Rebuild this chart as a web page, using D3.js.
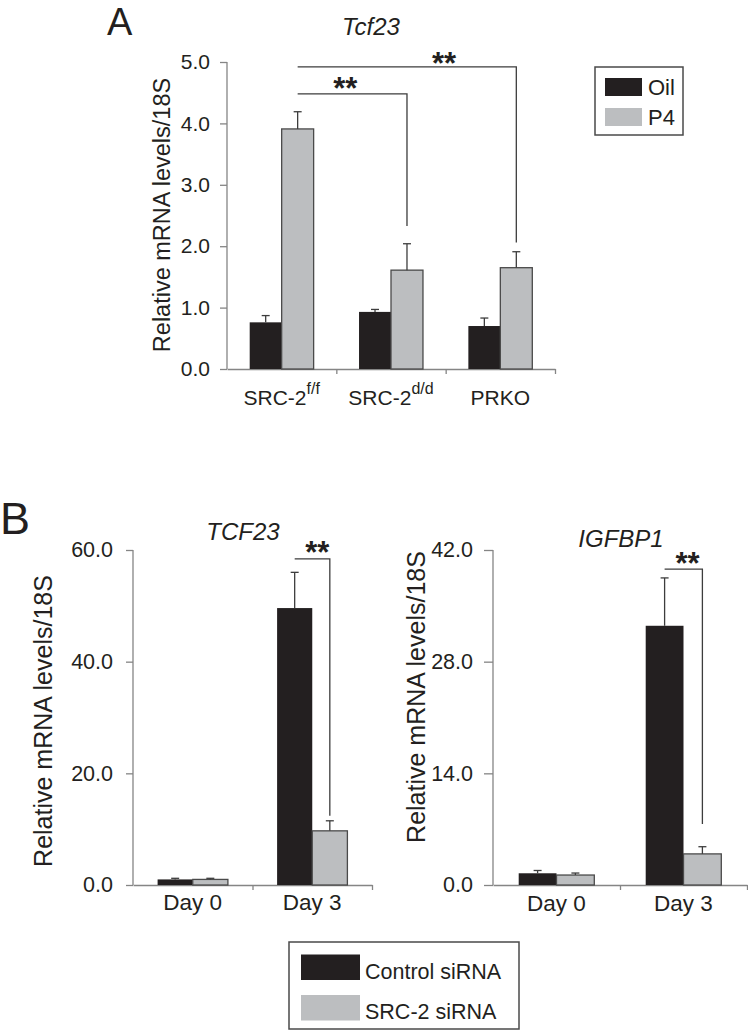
<!DOCTYPE html>
<html><head><meta charset="utf-8">
<script src="https://cdn.jsdelivr.net/npm/d3@7"></script>
<style>
html,body{margin:0;padding:0;background:#fff;}
svg text{font-family:"Liberation Sans",Arial,Helvetica,sans-serif;fill:#231f20;}
</style></head>
<body>
<svg id="chart" width="748" height="1031"></svg>
<script>
// ---------- DATA ----------
// Panel A: Tcf23
const catsA = ["SRC-2", "SRC-2", "PRKO"];
const catsASup = ["f/f", "d/d", ""];
const seriesA = ["Oil", "P4"];
const oilMean = [0.76, 0.93, 0.70];
const oilErr  = [0.11, 0.04, 0.13];
const p4Mean  = [3.91, 1.61, 1.65];
const p4Err   = [0.28, 0.43, 0.26];
const ticksA  = [0, 1, 2, 3, 4, 5];

// Panel B
const daysB = ["Day 0", "Day 3"];
const seriesB = ["Control siRNA", "SRC-2 siRNA"];
const tcfCtrl = [1.0, 49.6];
const tcfCtrlErr = [0.2, 6.4];
const tcfSi = [1.0, 9.7];
const tcfSiErr = [0.2, 1.8];
const ticksTcf = [0, 20, 40, 60];
const igfCtrl = [1.47, 32.5];
const igfCtrlErr = [0.35, 6.0];
const igfSi = [1.25, 3.9];
const igfSiErr = [0.25, 0.9];
const ticksIgf = [0, 14, 28, 42];

// ---------- STYLE ----------
const BLACK = "#231f20", GRAY = "#bcbec0", AXIS = "#858585", LINE = "#3d3d3d";
const svg = d3.select("#chart");

function barPanel(opt) {
  const g = svg.append("g");
  const x = d3.scaleBand().domain(d3.range(opt.cats.length)).range(opt.xRange).padding(0);
  const xs = d3.scaleBand().domain([0, 1]).range([0, x.bandwidth()]).paddingOuter(opt.outer).paddingInner(0);
  const y = d3.scaleLinear().domain(opt.yDomain).range(opt.yRange);

  // y axis
  const ya = d3.axisLeft(y).tickValues(opt.ticks).tickSize(opt.tickLen).tickSizeOuter(0)
      .tickFormat(d3.format(".1f")).tickPadding(opt.tickPad);
  const yg = g.append("g").attr("transform", `translate(${opt.xRange[0]},0)`).call(ya);
  yg.select(".domain").attr("stroke", AXIS).attr("stroke-width", 1.3).attr("d", `M0,${opt.yRange[0]}V${opt.yRange[1]}`);
  yg.selectAll(".tick line").attr("stroke", AXIS).attr("stroke-width", 1.3);
  yg.selectAll(".tick text").style("font-size", opt.tickFont + "px").attr("fill", BLACK)
    .style("font-family", '"Liberation Sans",Arial,sans-serif');

  // x axis
  const xaScale = d3.scaleLinear().domain([0, opt.cats.length]).range(opt.xRange);
  const xa = d3.axisBottom(xaScale).tickValues(d3.range(1, opt.cats.length + 1)).tickSize(5).tickSizeOuter(0).tickFormat("");
  const xg = g.append("g").attr("transform", `translate(0,${opt.yRange[0]})`).call(xa);
  xg.select(".domain").attr("stroke", AXIS).attr("stroke-width", 1.3);
  xg.selectAll(".tick line").attr("stroke", AXIS).attr("stroke-width", 1.3);

  // bars
  const data = [];
  opt.cats.forEach((c, i) => {
    data.push({i, s: 0, v: opt.m0[i], e: opt.e0[i]});
    data.push({i, s: 1, v: opt.m1[i], e: opt.e1[i]});
  });
  const bx = d => x(d.i) + xs(d.s);
  g.selectAll("rect.bar").data(data).join("rect")
    .attr("x", bx).attr("width", xs.bandwidth())
    .attr("y", d => y(d.v)).attr("height", d => y(0) - y(d.v))
    .attr("fill", d => d.s === 0 ? BLACK : GRAY)
    .attr("stroke", d => d.s === 0 ? "none" : "#4a4a4a")
    .attr("stroke-width", 1.3);
  // error bars
  const eb = g.selectAll("g.err").data(data).join("g");
  eb.append("line")
    .attr("x1", d => bx(d) + xs.bandwidth() / 2).attr("x2", d => bx(d) + xs.bandwidth() / 2)
    .attr("y1", d => y(d.v)).attr("y2", d => y(d.v + d.e))
    .attr("stroke", LINE).attr("stroke-width", 1.3);
  eb.append("line")
    .attr("x1", d => bx(d) + xs.bandwidth() / 2 - 4).attr("x2", d => bx(d) + xs.bandwidth() / 2 + 4)
    .attr("y1", d => y(d.v + d.e)).attr("y2", d => y(d.v + d.e))
    .attr("stroke", LINE).attr("stroke-width", 1.3);

  // category labels
  opt.cats.forEach((c, i) => {
    const t = g.append("text").attr("x", x(i) + x.bandwidth() / 2).attr("y", opt.labelY)
      .attr("text-anchor", "middle").style("font-size", opt.labelFont + "px");
    t.append("tspan").text(c);
    if (opt.sups && opt.sups[i]) {
      t.append("tspan").text(opt.sups[i]).attr("dy", -11.5).style("font-size", "16px");
    }
  });

  // y title
  g.append("text").attr("transform", `translate(${opt.titleX},${opt.titleY}) rotate(-90)`)
    .attr("text-anchor", "middle").style("font-size", opt.titleFont + "px").text("Relative mRNA levels/18S");

  // gene title
  g.append("text").attr("x", opt.geneX).attr("y", opt.geneY).attr("text-anchor", "middle")
    .style("font-size", "24px").style("font-style", "italic").text(opt.gene);

  // significance brackets
  const cx = (i, s) => x(i) + xs(s) + xs.bandwidth() / 2;
  opt.brackets.forEach(b => {
    const x1 = cx(b.a[0], b.a[1]), x2 = cx(b.b[0], b.b[1]);
    let d = `M${x1},${y(b.top)}H${x2}V${y(b.end)}`;
    g.append("path").attr("d", d).attr("fill", "none").attr("stroke", LINE).attr("stroke-width", 1.3);
    g.append("text").attr("x", (x1 + x2) / 2 + b.dx).attr("y", y(b.top) + b.dy)
      .attr("text-anchor", "middle").style("font-size", "31px").style("font-weight", "bold").text("**");
  });
  return {x, y};
}

// Panel A
barPanel({
  cats: catsA, sups: catsASup, m0: oilMean, e0: oilErr, m1: p4Mean, e1: p4Err,
  xRange: [227, 555], outer: 0.71, yDomain: [0, 5], yRange: [369, 62], ticks: ticksA,
  tickLen: 7, tickPad: 10, tickFont: 21, labelY: 405, labelFont: 21,
  titleX: 170, titleY: 215, titleFont: 23.5, gene: "Tcf23", geneX: 371, geneY: 35,
  brackets: [
    {a: [0, 1], b: [2, 1], top: 4.92, end: 2.06, dx: 37, dy: 7},
    {a: [0, 1], b: [1, 1], top: 4.48, end: 2.33, dx: -7, dy: 5.5}
  ]
});

// Panel B left
barPanel({
  cats: daysB, m0: tcfCtrl, e0: tcfCtrlErr, m1: tcfSi, e1: tcfSiErr,
  xRange: [133, 372], outer: 0.7, yDomain: [0, 60], yRange: [885, 550], ticks: ticksTcf,
  tickLen: 7, tickPad: 13, tickFont: 21.5, labelY: 910, labelFont: 22.5,
  titleX: 52, titleY: 721, titleFont: 25, gene: "TCF23", geneX: 243, geneY: 540,
  brackets: [{a: [1, 0], b: [1, 1], top: 58.4, end: 12.4, dx: 5, dy: 4}]
});

// Panel B right
barPanel({
  cats: daysB, m0: igfCtrl, e0: igfCtrlErr, m1: igfSi, e1: igfSiErr,
  xRange: [493, 747], outer: 0.68, yDomain: [0, 42], yRange: [885, 550], ticks: ticksIgf,
  tickLen: 9, tickPad: 11, tickFont: 21.5, labelY: 911, labelFont: 22.5,
  titleX: 425, titleY: 697, titleFont: 25, gene: "IGFBP1", geneX: 621, geneY: 547,
  brackets: [{a: [1, 0], b: [1, 1], top: 39.6, end: 7.65, dx: 4, dy: 4.5}]
});

// Panel letters
svg.append("text").attr("x", 107).attr("y", 35).style("font-size", "38px").attr("textLength", 33).text("A");
svg.append("text").attr("x", 0).attr("y", 534).style("font-size", "45px").text("B");

// Legends
function legend(x0, y0, w, h, items, sw, textX, rows, font) {
  const g = svg.append("g");
  g.append("rect").attr("x", x0).attr("y", y0).attr("width", w).attr("height", h)
    .attr("fill", "#fff").attr("stroke", "#4a4a4a").attr("stroke-width", 1.5);
  items.forEach((it, i) => {
    g.append("rect").attr("x", sw.x).attr("y", rows[i]).attr("width", sw.w).attr("height", sw.h)
      .attr("fill", i === 0 ? BLACK : GRAY);
    g.append("text").attr("x", textX).attr("y", rows[i] + sw.h - 1.5)
      .style("font-size", font + "px").text(it);
  });
}
legend(595, 67, 88, 68, seriesA, {x: 605, w: 37, h: 18}, 648, [78, 108], 22);
legend(289, 942, 230, 87, seriesB, {x: 301, w: 59, h: 25.5}, 365, [954.5, 995], 21.5);
</script>
</body></html>
